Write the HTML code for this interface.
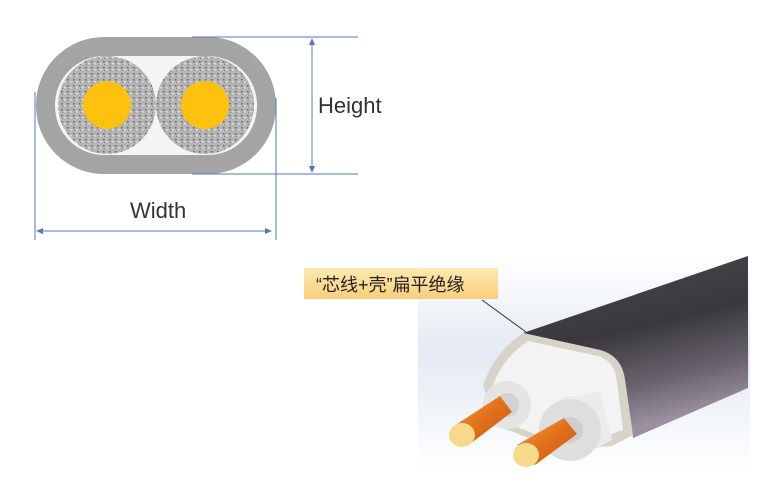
<!DOCTYPE html>
<html><head><meta charset="utf-8"><style>
html,body{margin:0;padding:0;background:#fff;width:768px;height:491px;overflow:hidden}
svg{display:block}
</style></head><body>
<svg width="768" height="491" viewBox="0 0 768 491" xmlns="http://www.w3.org/2000/svg">
<defs>
<linearGradient id="bg" x1="0" y1="0" x2="0" y2="1">
<stop offset="0" stop-color="#ffffff"/><stop offset="0.45" stop-color="#e4eaf3"/><stop offset="1" stop-color="#ffffff"/></linearGradient>
<linearGradient id="lbl" x1="0" y1="0" x2="0" y2="1">
<stop offset="0" stop-color="#fde9b0"/><stop offset="1" stop-color="#f8cf7a"/></linearGradient>
<linearGradient id="body" x1="0" y1="0" x2="0.3" y2="1">
<stop offset="0" stop-color="#4a4a4e"/><stop offset="0.5" stop-color="#3a383c"/><stop offset="0.8" stop-color="#6b6470"/><stop offset="1" stop-color="#9a90a0"/></linearGradient>
<linearGradient id="cu" x1="0" y1="0" x2="1" y2="1">
<stop offset="0" stop-color="#f5a040"/><stop offset="0.5" stop-color="#e0701a"/><stop offset="1" stop-color="#c85a10"/></linearGradient>
<pattern id="spk" width="6" height="6" patternUnits="userSpaceOnUse">
<rect width="6" height="6" fill="#b4b4b4"/><rect x="1" y="1" width="1.5" height="1.5" fill="#666"/><rect x="4" y="3" width="1.5" height="1.5" fill="#e8e8e8"/><rect x="2" y="4" width="1" height="1" fill="#888"/></pattern>
</defs>
<rect x="36" y="37" width="240" height="137" rx="68" fill="#a4a4a4"/>
<rect x="55" y="56" width="202" height="99" rx="49" fill="#f4f4f4"/>
<circle cx="107" cy="105" r="49" fill="url(#spk)"/>
<circle cx="205" cy="105" r="49" fill="url(#spk)"/>
<circle cx="107" cy="105" r="24" fill="#fdc10e"/>
<circle cx="205" cy="105" r="24" fill="#fdc10e"/>
<g stroke="#5577bb" stroke-width="1" fill="none">
<line x1="192" y1="37" x2="358" y2="37"/>
<line x1="192" y1="174" x2="358" y2="174"/>
<line x1="312" y1="39" x2="312" y2="172"/>
<line x1="35" y1="92" x2="35" y2="240"/>
<line x1="276" y1="98" x2="276" y2="240"/>
<line x1="37" y1="231" x2="270" y2="231"/>
</g>
<g fill="#5577bb">
<polygon points="312,38 309,45 315,45"/><polygon points="312,173 309,166 315,166"/>
<polygon points="36,231 43,228 43,234"/><polygon points="272,231 265,228 265,234"/>
</g>
<text x="318" y="113" font-family="Liberation Sans, sans-serif" font-size="22" fill="#333">Height</text>
<text x="130" y="218" font-family="Liberation Sans, sans-serif" font-size="22" fill="#333">Width</text>
<rect x="418" y="255" width="332" height="218" fill="url(#bg)"/>
<path d="M523 333 L748 256 L748 388 L633 438 L625 380 Q622 356 600 350 Z" fill="url(#body)"/>
<path d="M523 333 L600 350 Q622 356 625 380 L633 435 L612 446 L560 450 L495 425 L483 385 Q495 352 523 333 Z" fill="#d8d3c8"/>
<path d="M528 341 L598 356 Q615 361 617 382 L623 430 L600 438 L555 442 L500 420 L492 388 Q502 358 528 341 Z" fill="#f3f3f3"/>
<circle cx="507" cy="405" r="24" fill="#e4e4e4"/>
<circle cx="507" cy="405" r="12" fill="#d2d2d2"/>
<path d="M560 398 L600 392 L612 440 L575 460 Z" fill="#ebebeb"/>
<circle cx="570" cy="430" r="31" fill="#dedede"/>
<circle cx="570" cy="430" r="13" fill="#cfcfcf"/>
<path d="M454 426 L500 396 L512 412 L470 444 Z" fill="url(#cu)"/>
<ellipse cx="462" cy="435" rx="13" ry="12" fill="#f6d98a"/>
<path d="M517 445 L564 418 L577 434 L535 465 Z" fill="url(#cu)"/>
<ellipse cx="526" cy="455" rx="13" ry="12" fill="#f6d98a"/>
<line x1="482" y1="300" x2="526" y2="332" stroke="#333" stroke-width="1"/>
<rect x="304" y="268" width="194" height="31" fill="url(#lbl)"/>
<text x="316" y="291" font-family="Liberation Sans, 'Noto Sans CJK SC', sans-serif" font-size="18" fill="#222">“芯线+壳”扁平绝缘</text>
</svg>
</body></html>
